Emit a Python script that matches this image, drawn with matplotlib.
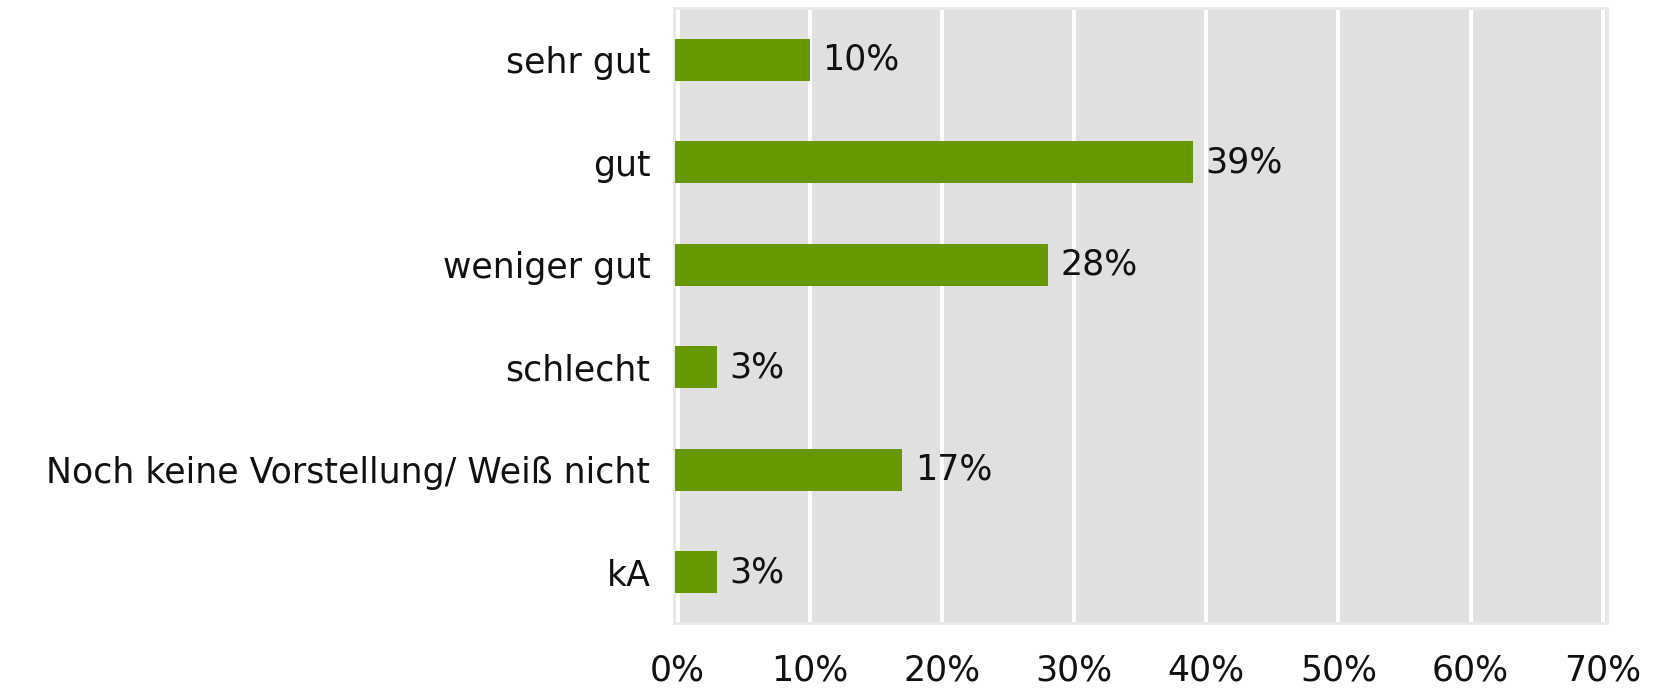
import matplotlib
matplotlib.use("Agg")
import matplotlib.pyplot as plt

# Survey answers and shares (percent)
categories = ["sehr gut", "gut", "weniger gut", "schlecht",
              "Noch keine Vorstellung/ Weiß nicht", "kA"]
values = [10, 39, 28, 3, 17, 3]
value_labels = ["10%", "39%", "28%", "3%", "17%", "3%"]
x_ticks = [0, 10, 20, 30, 40, 50, 60, 70]
x_tick_labels = ["0%", "10%", "20%", "30%", "40%", "50%", "60%", "70%"]

plt.rcParams["font.family"] = ["DejaVu Sans"]
fsize = 25
start = -0.2  # bars begin right at the panel edge

fig = plt.figure(figsize=(16.54, 6.88), dpi=100)
ax = fig.add_axes([0.4075, 0.094, 0.5639, 0.8939])
ax.set_facecolor("#e0e0e0")

pos = list(range(len(categories)))
ax.barh(pos, [v - start for v in values], height=0.41, left=start, color="#669900", zorder=3)

for p, v, lab in zip(pos, values, value_labels):
    ax.text(v + 0.95, p, lab, va="center", ha="left", fontsize=fsize, color="#111111", zorder=4)

ax.set_xlim(-0.27, 70.3)
ax.set_ylim(len(categories) - 0.5, -0.5)
ax.set_xticks(x_ticks)
ax.set_xticklabels(x_tick_labels)
ax.set_yticks(pos)
ax.set_yticklabels(categories)
ax.tick_params(axis="both", length=0, labelsize=fsize, colors="#111111")
ax.tick_params(axis="y", pad=17)
ax.tick_params(axis="x", pad=22)

ax.grid(axis="x", color="white", linewidth=3, zorder=1)
for s in ax.spines.values():
    s.set_color("#e8e8e8")
    s.set_linewidth(2)

fig.savefig("out.png", dpi=100)
